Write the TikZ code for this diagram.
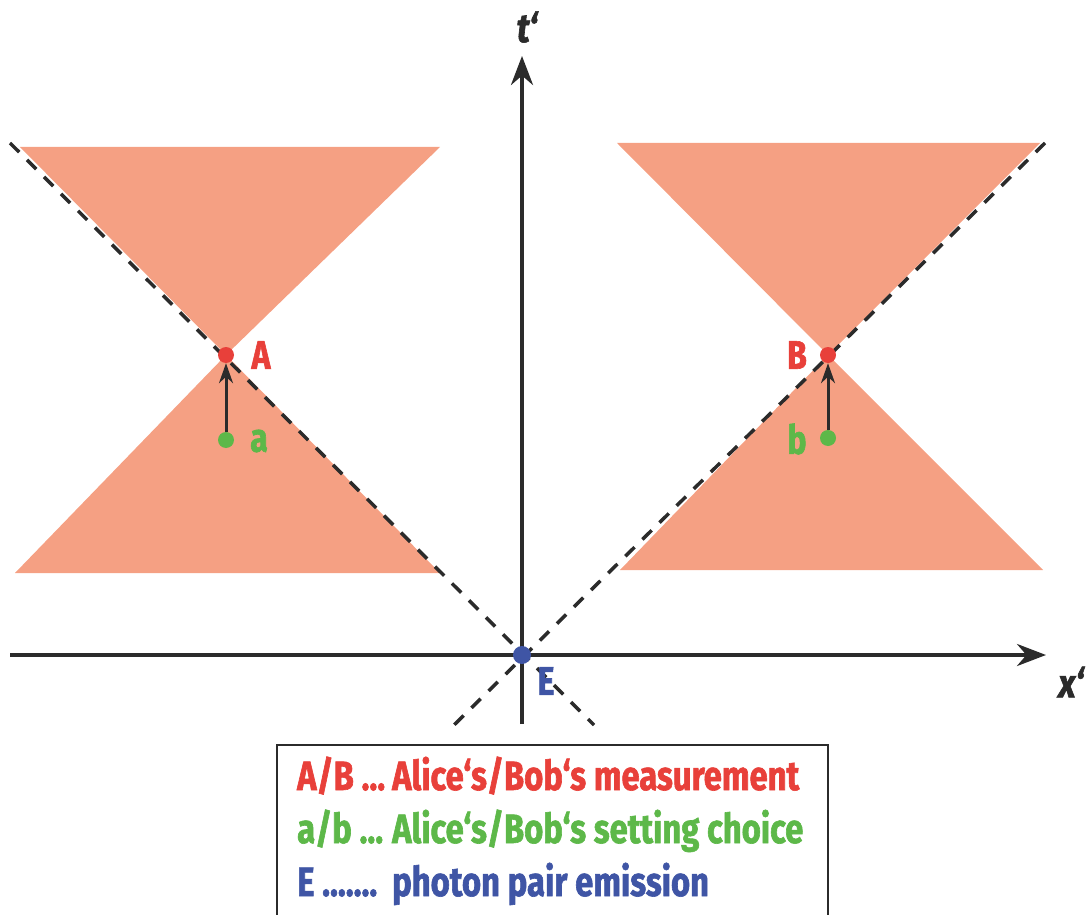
\documentclass[tikz,border=0pt]{standalone}
\usepackage{fontspec}
\setmainfont{Fira Sans}
\newfontfamily\labfont{Fira Sans Bold}[FakeStretch=0.8,FakeBold=1.5]
\newfontfamily\labitfont{Fira Sans Bold Italic}[FakeStretch=0.85,FakeBold=1.5]
\usetikzlibrary{arrows.meta}
\definecolor{cone}{HTML}{F5A083}
\definecolor{myred}{HTML}{E8403A}
\definecolor{mygreen}{HTML}{5DB849}
\definecolor{myblue}{HTML}{3F55A5}
\definecolor{ink}{HTML}{2B2B2B}
\begin{document}
\begin{tikzpicture}[x=1pt,y=-1pt,
  conefill/.style={fill=cone},
  lightline/.style={ink,line width=3.5pt,dash pattern=on 13pt off 11pt},
  axis/.style={ink,line width=4pt,-{Stealth[length=29pt,width=22pt]}},
  setarrow/.style={ink,line width=3pt,-{Stealth[length=20pt,width=14pt]}},
  dot/.style={circle,inner sep=0pt,minimum size=16pt},
  lbl/.style={font=\labfont\fontsize{40}{40}\selectfont,inner sep=0pt},
  axlbl/.style={font=\labitfont\fontsize{40}{40}\selectfont,inner sep=0pt,text=ink},
  legend/.style={font=\labfont\fontsize{41}{41}\selectfont,inner sep=0pt,anchor=base west},
  legbox/.style={ink,line width=2.5pt}]
\useasboundingbox (0,0) rectangle (1088,915);
% event coordinates
\coordinate (A) at (226,355);
\coordinate (B) at (828,355);
\coordinate (E) at (522,655);
\coordinate (a) at (226,440);
\coordinate (b) at (828,438);
% light cones
\fill[conefill] (20,147) -- (440,147) -- (A) -- cycle;
\fill[conefill] (15,573) -- (440,573) -- (A) -- cycle;
\fill[conefill] (617,143) -- (1040,143) -- (B) -- cycle;
\fill[conefill] (620,570) -- (1043,570) -- (B) -- cycle;
% light lines through E
\coordinate (ll1) at (10,143);
\coordinate (ll2) at (594,725);
\coordinate (lr1) at (1045,143);
\coordinate (lr2) at (454,725);
\draw[lightline] (ll1) -- (ll2);
\draw[lightline] (lr1) -- (lr2);
% axes
\coordinate (xs) at (10,655);
\coordinate (xe) at (1046,655);
\coordinate (ts) at (522,724);
\coordinate (te) at (522,56);
\draw[axis] (xs) -- (xe);
\draw[axis] (ts) -- (te);
\node[axlbl] (tlab) at (527,27) {t‘};
\node[axlbl] (xlab) at (1071,682) {x‘};
% dots
\node[dot,fill=mygreen] (adot) at (a) {};
\node[dot,fill=mygreen] (bdot) at (b) {};
\node[dot,fill=myred] (Adot) at (A) {};
\node[dot,fill=myred] (Bdot) at (B) {};
\node[dot,fill=myblue,minimum size=18pt] (Edot) at (E) {};
\draw[setarrow] (adot) -- (Adot);
\draw[setarrow] (bdot) -- (Bdot);
% labels
\node[lbl,text=myred] (Alab) at (261,355) {A};
\node[lbl,text=myred] (Blab) at (797,355) {B};
\node[lbl,text=mygreen] (alab) at (259,441) {a};
\node[lbl,text=mygreen] (blab) at (797,439) {b};
\node[lbl,text=myblue] (Elab) at (546,681) {E};
% legend
\draw[legbox] (277,745) rectangle (828,930);
\node[legend,text=myred] (l1) at (297,790) {\makebox[95pt][l]{A/B ...}Alice‘s/Bob‘s measurement};
\node[legend,text=mygreen] (l2) at (297,843) {\makebox[95pt][l]{a/b ...}Alice‘s/Bob‘s setting choice};
\node[legend,text=myblue] (l3) at (297,896) {\makebox[95pt][l]{E .......}photon pair emission};
\end{tikzpicture}
\end{document}
